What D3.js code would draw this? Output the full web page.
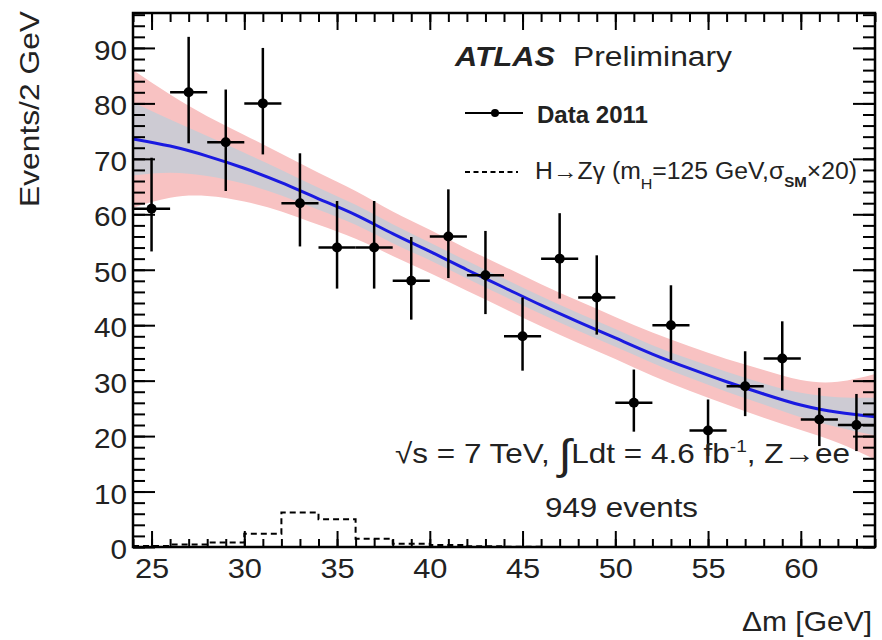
<!DOCTYPE html>
<html>
<head>
<meta charset="utf-8">
<script src="https://cdnjs.cloudflare.com/ajax/libs/d3/7.8.5/d3.min.js"></script>
<style>
  body { margin: 0; background: #fff; }
  svg { display: block; font-family: "Liberation Sans", Arial, sans-serif; }
  text { fill: #222; }
</style>
</head>
<body>
<div id="chart"></div>
<script>
// Data 2011, events per 2 GeV bin
var binCenters = [25, 27, 29, 31, 33, 35, 37, 39, 41, 43, 45, 47, 49, 51, 53, 55, 57, 59, 61, 63];
var events = [61, 82, 73, 80, 62, 54, 54, 48, 56, 49, 38, 52, 45, 26, 40, 21, 29, 34, 23, 22];
var errUp = [9.2, 10.0, 9.5, 10.0, 9.0, 8.4, 8.4, 7.9, 8.5, 8.0, 7.0, 8.2, 7.6, 6.0, 7.2, 5.6, 6.3, 6.7, 5.7, 5.6];
var errDown = [7.7, 9.2, 8.8, 9.2, 7.8, 7.4, 7.4, 7.0, 7.5, 7.0, 6.2, 7.2, 6.7, 5.2, 6.3, 4.6, 5.4, 5.8, 4.8, 4.7];

// H->Zgamma signal (x20), one value per bin
var sigEdges = [24, 26, 28, 30, 32, 34, 36, 38, 40, 42, 44, 46, 48, 50, 52, 54, 56, 58, 60, 62, 64];
var sigValues = [0.2, 0.45, 0.8, 2.4, 6.2, 5.0, 1.5, 0.6, 0.35, 0.15, 0.05, 0, 0, 0, 0, 0, 0, 0, 0, 0];

// background fit and its uncertainty bands
var fitX = [24, 26, 28, 30, 32, 34, 36, 38, 40, 42, 44, 46, 48, 50, 52, 54, 56, 58, 60, 62, 64];
var fitY = [73.6, 72.3, 70.5, 68.3, 65.7, 62.8, 59.9, 56.5, 53.3, 50.0, 46.8, 43.6, 40.6, 37.7, 34.8, 32.2, 29.8, 27.6, 25.6, 24.3, 23.5];
var bandOuter = [12.4, 9.3, 7.2, 6.0, 5.2, 4.7, 4.3, 4.0, 3.9, 3.8, 3.8, 3.8, 3.8, 3.8, 3.9, 4.0, 4.1, 4.3, 4.5, 5.5, 7.7];
var bandInner = [6.6, 4.8, 3.6, 2.8, 2.3, 2.0, 1.8, 1.7, 1.6, 1.6, 1.6, 1.6, 1.6, 1.6, 1.6, 1.7, 1.8, 1.9, 2.2, 2.7, 3.4];

// tick labels
var xMajorTicks = [25, 30, 35, 40, 45, 50, 55, 60];
var yMajorTicks = [0, 10, 20, 30, 40, 50, 60, 70, 80, 90];

var svgWidth = 882;
var svgHeight = 640;

var margin = { top: 13, right: 7, bottom: 93, left: 133 };
var width = svgWidth - margin.left - margin.right;
var height = svgHeight - margin.top - margin.bottom;

var svg = d3.select("#chart")
  .append("svg")
  .attr("width", svgWidth)
  .attr("height", svgHeight);

var chartGroup = svg.append("g")
  .attr("transform", `translate(${margin.left}, ${margin.top})`);

chartGroup.append("clipPath")
  .attr("id", "plotClip")
  .append("rect")
  .attr("width", width)
  .attr("height", height);

var xScale = d3.scaleLinear().domain([24, 64]).range([0, width]);
var yScale = d3.scaleLinear().domain([0, 96.3]).range([height, 0]);

var fitData = fitX.map((d, i) => ({ x: d, y: fitY[i], o: bandOuter[i], n: bandInner[i] }));

var plot = chartGroup.append("g").attr("clip-path", "url(#plotClip)");

// outer band (pink)
plot.append("path")
  .datum(fitData)
  .attr("fill", "#f8c2c2")
  .attr("d", d3.area()
    .curve(d3.curveNatural)
    .x(d => xScale(d.x))
    .y0(d => yScale(d.y - d.o))
    .y1(d => yScale(d.y + d.o)));

// inner band (grey)
plot.append("path")
  .datum(fitData)
  .attr("fill", "#cdcbd3")
  .attr("d", d3.area()
    .curve(d3.curveNatural)
    .x(d => xScale(d.x))
    .y0(d => yScale(d.y - d.n))
    .y1(d => yScale(d.y + d.n)));

// fit line
plot.append("path")
  .datum(fitData)
  .attr("fill", "none")
  .attr("stroke", "#1a1ae0")
  .attr("stroke-width", 3)
  .attr("d", d3.line()
    .curve(d3.curveNatural)
    .x(d => xScale(d.x))
    .y(d => yScale(d.y)));

// signal histogram, dashed
var sigSteps = sigEdges.map((e, i) => ({ x: e, y: sigValues[Math.min(i, sigValues.length - 1)] }));
plot.append("path")
  .datum(sigSteps)
  .attr("fill", "none")
  .attr("stroke", "#000")
  .attr("stroke-width", 2)
  .attr("stroke-dasharray", "6,4")
  .attr("d", d3.line()
    .curve(d3.curveStepAfter)
    .x(d => xScale(d.x))
    .y(d => yScale(d.y)));

// data points with error bars
var points = binCenters.map((c, i) => ({ x: c, y: events[i], up: errUp[i], dn: errDown[i] }));

var pointGroup = plot.selectAll(".pt")
  .data(points)
  .enter()
  .append("g")
  .attr("class", "pt");

pointGroup.append("line")
  .attr("x1", d => xScale(d.x - 1))
  .attr("x2", d => xScale(d.x + 1))
  .attr("y1", d => yScale(d.y))
  .attr("y2", d => yScale(d.y))
  .attr("stroke", "#000")
  .attr("stroke-width", 2.5);

pointGroup.append("line")
  .attr("x1", d => xScale(d.x))
  .attr("x2", d => xScale(d.x))
  .attr("y1", d => yScale(d.y - d.dn))
  .attr("y2", d => yScale(d.y + d.up))
  .attr("stroke", "#000")
  .attr("stroke-width", 2.5);

pointGroup.append("circle")
  .attr("cx", d => xScale(d.x))
  .attr("cy", d => yScale(d.y))
  .attr("r", 5)
  .attr("fill", "#000");

// axes, ROOT style ticks pointing inwards on all four sides
function styleAxis(g) {
  g.attr("font-size", null).attr("font-family", null);
  g.select(".domain").remove();
  g.selectAll(".tick line").attr("stroke", "#000").attr("stroke-width", 2);
}

var xMinor = d3.range(24, 64.01, 1);
var yMinor = d3.range(0, 96.3, 2);

chartGroup.append("g")
  .attr("transform", `translate(0, ${height})`)
  .call(d3.axisBottom(xScale).tickValues(xMinor).tickSize(-8).tickFormat(""))
  .call(styleAxis);

chartGroup.append("g")
  .attr("transform", `translate(0, ${height})`)
  .call(d3.axisBottom(xScale).tickValues(xMajorTicks).tickSize(-16).tickFormat(d3.format("d")))
  .call(styleAxis)
  .selectAll("text")
  .attr("y", 31)
  .attr("dy", null)
  .style("font-size", "28px")
  .attr("transform", "scale(1.1,1)");

chartGroup.append("g")
  .call(d3.axisTop(xScale).tickValues(xMinor).tickSize(-9).tickFormat(""))
  .call(styleAxis);

chartGroup.append("g")
  .call(d3.axisTop(xScale).tickValues(xMajorTicks).tickSize(-17).tickFormat(""))
  .call(styleAxis);

chartGroup.append("g")
  .call(d3.axisLeft(yScale).tickValues(yMinor).tickSize(-12).tickFormat(""))
  .call(styleAxis);

chartGroup.append("g")
  .call(d3.axisLeft(yScale).tickValues(yMajorTicks).tickSize(-22).tickFormat(d3.format("d")))
  .call(styleAxis)
  .selectAll("text")
  .attr("x", 0)
  .attr("y", 11.5)
  .attr("dy", null)
  .style("font-size", "27px")
  .attr("text-anchor", "end")
  .attr("transform", "translate(-6,0) scale(1.1,1)");

chartGroup.append("g")
  .attr("transform", `translate(${width}, 0)`)
  .call(d3.axisRight(yScale).tickValues(yMinor).tickSize(-12).tickFormat(""))
  .call(styleAxis);

chartGroup.append("g")
  .attr("transform", `translate(${width}, 0)`)
  .call(d3.axisRight(yScale).tickValues(yMajorTicks).tickSize(-22).tickFormat(""))
  .call(styleAxis);

// frame
chartGroup.append("rect")
  .attr("width", width)
  .attr("height", height)
  .attr("fill", "none")
  .attr("stroke", "#000")
  .attr("stroke-width", 2.5);

// axis titles
svg.append("text")
  .attr("transform", "translate(39, 207) rotate(-90)")
  .attr("textLength", 196)
  .attr("lengthAdjust", "spacingAndGlyphs")
  .style("font-size", "28px")
  .text("Events/2 GeV");

svg.append("text")
  .attr("x", 872)
  .attr("y", 631)
  .attr("text-anchor", "end")
  .attr("textLength", 130)
  .attr("lengthAdjust", "spacingAndGlyphs")
  .style("font-size", "28px")
  .text("Δm [GeV]");

// ATLAS label
svg.append("text")
  .attr("x", 455)
  .attr("y", 66)
  .attr("textLength", 100)
  .attr("lengthAdjust", "spacingAndGlyphs")
  .style("font-size", "27px")
  .style("font-weight", "bold")
  .style("font-style", "italic")
  .text("ATLAS");

svg.append("text")
  .attr("x", 573)
  .attr("y", 66)
  .attr("textLength", 159)
  .attr("lengthAdjust", "spacingAndGlyphs")
  .style("font-size", "27px")
  .text("Preliminary");

// legend
svg.append("line")
  .attr("x1", 465).attr("x2", 523)
  .attr("y1", 113).attr("y2", 113)
  .attr("stroke", "#000")
  .attr("stroke-width", 2);

svg.append("circle")
  .attr("cx", 495).attr("cy", 113)
  .attr("r", 4)
  .attr("fill", "#000");

svg.append("text")
  .attr("x", 537)
  .attr("y", 123)
  .attr("textLength", 111)
  .attr("lengthAdjust", "spacingAndGlyphs")
  .style("font-size", "24px")
  .style("font-weight", "bold")
  .text("Data 2011");

svg.append("line")
  .attr("x1", 465).attr("x2", 518)
  .attr("y1", 172).attr("y2", 172)
  .attr("stroke", "#000")
  .attr("stroke-width", 2)
  .attr("stroke-dasharray", "5,3.5");

var sigLabel = svg.append("text")
  .attr("x", 535)
  .attr("y", 179)
  .attr("textLength", 322)
  .attr("lengthAdjust", "spacingAndGlyphs")
  .style("font-size", "23px");
sigLabel.append("tspan").text("H→Zγ (m");
sigLabel.append("tspan").attr("dy", 10).style("font-size", "15px").text("H");
sigLabel.append("tspan").attr("dy", -10).text("=125 GeV,σ");
sigLabel.append("tspan").attr("dy", 8).style("font-size", "14px").style("font-weight", "bold").text("SM");
sigLabel.append("tspan").attr("dy", -8).text("×20)");

// run conditions
var lumi = svg.append("text")
  .attr("x", 395)
  .attr("y", 463)
  .attr("textLength", 455)
  .attr("lengthAdjust", "spacingAndGlyphs")
  .style("font-size", "28px");
lumi.append("tspan").text("√s = 7 TeV, ");
lumi.append("tspan").attr("dy", 6).style("font-size", "42px").style("font-weight", "300").text("∫");
lumi.append("tspan").attr("dy", -6).text("Ldt = 4.6 fb");
lumi.append("tspan").attr("dy", -11).style("font-size", "17px").text("-1");
lumi.append("tspan").attr("dy", 11).text(", Z→ee");

svg.append("text")
  .attr("x", 545)
  .attr("y", 517)
  .attr("textLength", 153)
  .attr("lengthAdjust", "spacingAndGlyphs")
  .style("font-size", "27px")
  .text("949 events");
</script>
</body>
</html>
